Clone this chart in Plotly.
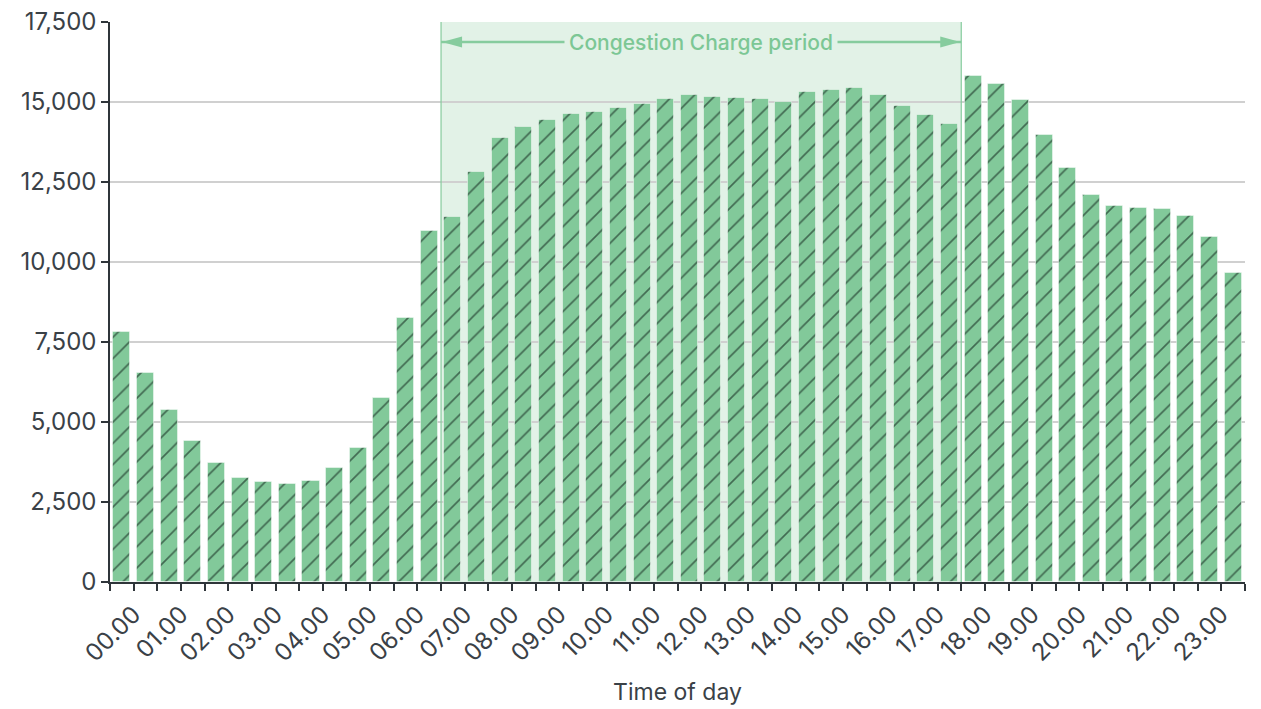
import plotly.graph_objects as go

# Half-hourly values (00.00, 00.30, ..., 23.30)
values = [
    7820, 6530, 5365, 4405, 3720, 3250, 3115, 3075, 3155, 3560, 4175, 5740,
    8250, 10980, 11405, 12810, 13885, 14210, 14440, 14625, 14690, 14810, 14940, 15095,
    15220, 15160, 15135, 15095, 14990, 15325, 15375, 15440, 15220, 14875, 14595, 14310,
    15820, 15560, 15060, 13960, 12940, 12095, 11740, 11675, 11655, 11430, 10770, 9655,
]
hour_labels = ["%02d.00" % h for h in range(24)]
y_ticks = [0, 2500, 5000, 7500, 10000, 12500, 15000, 17500]
y_tick_text = ["0", "2,500", "5,000", "7,500", "10,000", "12,500", "15,000", "17,500"]
charge_start = 14   # 07.00 slot
charge_end = 36     # 18.00 slot
arrow_level = 16875
annotation_text = "Congestion Charge period"

BAR = "#82c99a"
SHADE = "#e2f2e7"
EDGE = "#86cc9e"
TEXT = "#3a4147"
AXIS = "#2f353a"

x_pos = [i + 0.5 for i in range(len(values))]

fig = go.Figure()
fig.add_trace(go.Bar(
    x=x_pos, y=values, width=0.72,
    marker=dict(
        color=BAR,
        line=dict(color="rgba(255,255,255,0.45)", width=1),
        pattern=dict(shape="/", bgcolor=BAR, fgcolor="#3a5f49", fgopacity=0.9,
                     size=15, solidity=0.11),
    ),
    hoverinfo="skip",
))

# shaded period
fig.add_shape(type="rect", xref="x", yref="y", x0=charge_start, x1=charge_end,
              y0=0, y1=17500, fillcolor=SHADE, line=dict(width=0), layer="below")
for xb in (charge_start, charge_end):
    fig.add_shape(type="line", xref="x", yref="y", x0=xb, x1=xb, y0=0, y1=17500,
                  line=dict(color=EDGE, width=1.2), layer="above")

# arrow line
fig.add_shape(type="line", xref="x", yref="y", x0=charge_start, x1=charge_end,
              y0=arrow_level, y1=arrow_level, line=dict(color=EDGE, width=2.5), layer="above")
# arrow heads (pixel-sized)
fig.add_shape(type="path", xref="x", yref="y", xsizemode="pixel", ysizemode="pixel",
              xanchor=charge_start, yanchor=arrow_level,
              path="M1,0 L21,-5.5 L21,5.5 Z", fillcolor=EDGE, line=dict(width=0), layer="above")
fig.add_shape(type="path", xref="x", yref="y", xsizemode="pixel", ysizemode="pixel",
              xanchor=charge_end, yanchor=arrow_level,
              path="M-1,0 L-21,-5.5 L-21,5.5 Z", fillcolor=EDGE, line=dict(width=0), layer="above")

fig.add_annotation(x=(charge_start + charge_end) / 2, y=arrow_level, xref="x", yref="y",
                   text=annotation_text, showarrow=False, bgcolor=SHADE, borderpad=4,
                   font=dict(family="Inter", size=21, color="#7cc795", weight=500))

fig.update_layout(
    width=1261, height=709,
    margin=dict(l=102, r=24, t=14, b=135),
    paper_bgcolor="white", plot_bgcolor="white",
    showlegend=False,
    font=dict(family="Inter", size=24, color=TEXT),
    bargap=0,
)
fig.update_xaxes(
    range=[0, 48], showgrid=False, zeroline=False, automargin=False,
    showline=True, linecolor=AXIS, linewidth=1.5,
    tickmode="array", tickvals=[2 * i + 1 for i in range(24)], ticktext=hour_labels,
    tickangle=-45, ticks="outside", ticklen=7, tickwidth=1.5, tickcolor=AXIS,
    tickfont=dict(size=24, color=TEXT), ticklabeloverflow="allow",
    minor=dict(tickmode="linear", tick0=0, dtick=1, ticks="outside", ticklen=7,
               tickwidth=1.5, tickcolor=AXIS, showgrid=False),
    title=dict(text="Time of day", font=dict(size=23, color=TEXT), standoff=18),
)
fig.update_yaxes(
    range=[0, 17500.5], tickmode="array", tickvals=y_ticks, ticktext=y_tick_text,
    showgrid=True, gridcolor="#d0d0d0", gridwidth=1.5, zeroline=False, automargin=False,
    showline=True, linecolor=AXIS, linewidth=1.5,
    ticks="outside", ticklen=7, tickwidth=1.5, tickcolor=AXIS,
    tickfont=dict(size=24, color=TEXT), ticklabeloverflow="allow",
)

fig.write_html("out.html")
